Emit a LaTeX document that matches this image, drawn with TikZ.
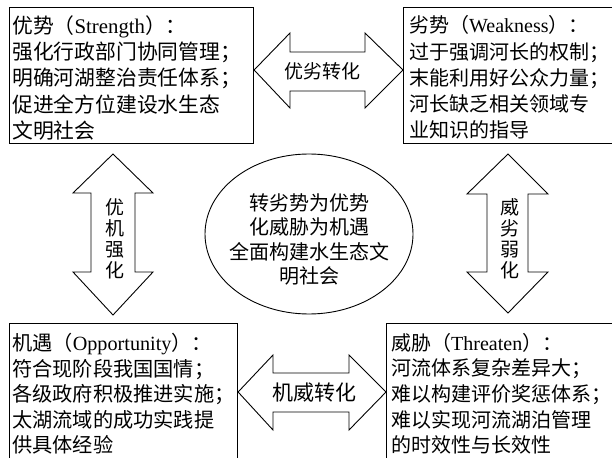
\documentclass[tikz,border=0pt]{standalone}
\usepackage{fontspec}
\setmainfont{Liberation Serif}
\newfontfamily\cjk{Noto Sans CJK SC}
\newfontfamily\lat{Liberation Serif}
\usetikzlibrary{shapes.geometric}
\begin{document}
\begin{tikzpicture}[x=1pt,y=-1pt,
  boxframe/.style={draw=black,line width=1.1pt,inner sep=0pt,rectangle,anchor=north west},
  boxtext/.style={inner sep=0pt,anchor=north west,align=left},
  blockarrow/.style={draw=black,line width=0.9pt,fill=white,line join=miter},
  arrowlabel/.style={inner sep=0pt,align=center},
  centerell/.style={draw=black,line width=0.9pt,ellipse,minimum width=208pt,minimum height=160pt,inner sep=0pt}]
\useasboundingbox[fill=white] (0,0) rectangle (612,457);
% boxes
\node[boxframe,minimum width=244pt,minimum height=136pt] (S) at (9,7) {};
\node[boxframe,minimum width=214pt,minimum height=136pt] (W) at (403,7) {};
\node[boxframe,minimum width=228pt,minimum height=140pt] (O) at (9,323) {};
\node[boxframe,minimum width=232pt,minimum height=140pt] (T) at (386,323) {};
% box texts
\node[boxtext,font={\cjk\fontsize{20.8}{26.2}\selectfont}] (St) at (12,15.5)
 {优势（{\lat Strength}）：\\强化行政部门协同管理；\\明确河湖整治责任体系；\\促进全方位建设水生态\\文明社会};
\node[boxtext,font={\cjk\fontsize{20}{26.2}\selectfont}] (Wt) at (409,15.5)
 {劣势（{\lat Weakness}）：\\过于强调河长的权制；\\末能利用好公众力量；\\河长缺乏相关领域专\\业知识的指导};
\node[boxtext,font={\cjk\fontsize{20.2}{25.6}\selectfont}] (Ot) at (12,333)
 {机遇（{\lat Opportunity}）：\\符合现阶段我国国情；\\各级政府积极推进实施；\\太湖流域的成功实践提\\供具体经验};
\node[boxtext,font={\cjk\fontsize{20}{25.6}\selectfont}] (Tt) at (391,333)
 {威胁（{\lat Threaten}）：\\河流体系复杂差异大；\\难以构建评价奖惩体系；\\难以实现河流湖泊管理\\的时效性与长效性};
% center ellipse
\node[centerell] (C) at (309,234) {};
\node[arrowlabel,font={\cjk\fontsize{20}{24.5}\selectfont}] (Ct) at (309,239.5)
 {转劣势为优势\\化威胁为机遇\\全面构建水生态文\\明社会};
% top horizontal double arrow
\draw[blockarrow] (S.east |- 0,70) -- (290,33) -- (290,52) -- (365,52) -- (365,33) -- (W.west |- 0,70)
  -- (365,108) -- (365,91) -- (290,91) -- (290,108) -- cycle;
\node[arrowlabel,font={\cjk\fontsize{19}{19}\selectfont}] (SW) at (322,71) {优劣转化};
% bottom horizontal double arrow
\draw[blockarrow] (O.east |- 0,392) -- (273,355) -- (273,373) -- (349,373) -- (349,355) -- (T.west |- 0,392)
  -- (349,430) -- (349,412) -- (273,412) -- (273,430) -- cycle;
\node[arrowlabel,font={\cjk\fontsize{21}{21}\selectfont}] (OT) at (314,393) {机威转化};
% left vertical double arrow
\draw[blockarrow] (113,154) -- (153,193) -- (135,193) -- (135,272) -- (153,272) -- (113,315)
  -- (73,272) -- (91,272) -- (91,193) -- (73,193) -- cycle;
\node[arrowlabel,font={\cjk\fontsize{19}{21}\selectfont}] (SO) at (115,239) {优\\机\\强\\化};
% right vertical double arrow
\draw[blockarrow] (508,154) -- (548,194) -- (528,194) -- (528,272) -- (548,272) -- (508,313)
  -- (467,272) -- (487,272) -- (487,194) -- (467,194) -- cycle;
\node[arrowlabel,font={\cjk\fontsize{19}{21}\selectfont}] (WT) at (510,239) {威\\劣\\弱\\化};
\end{tikzpicture}
\end{document}
